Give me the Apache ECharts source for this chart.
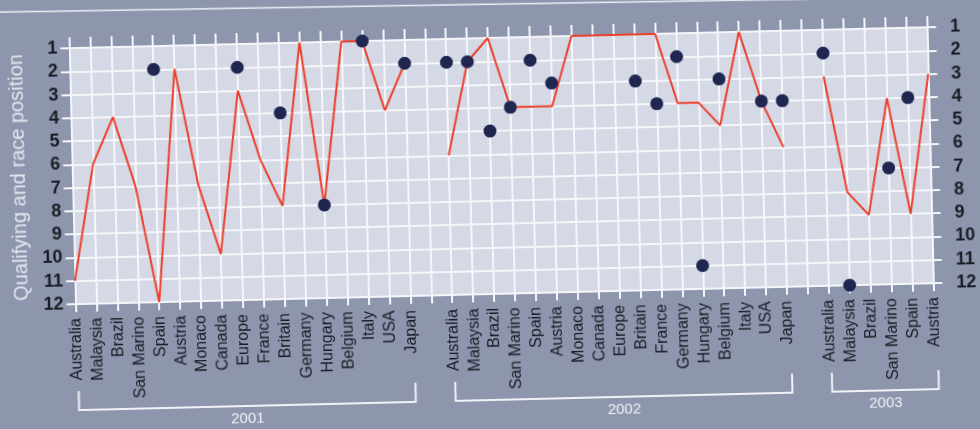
<!DOCTYPE html>
<html>
<head>
<meta charset="utf-8">
<title>Qualifying and race position</title>
<script src="https://cdn.jsdelivr.net/npm/echarts@6/dist/echarts.min.js"></script>
<style>
  html, body { margin: 0; padding: 0; width: 980px; height: 429px; overflow: hidden; background: #8e96ad; }
  /* the printed chart is scanned slightly askew, so the whole canvas is tilted */
  #chart { position: absolute; left: -20px; top: -20px; width: 1020px; height: 469px; transform: rotate(-1.4deg); }
</style>
</head>
<body>
<div id="chart"></div>
<script>
var races2001 = ['Australia', 'Malaysia', 'Brazil', 'San Marino', 'Spain', 'Austria', 'Monaco', 'Canada', 'Europe',
  'France', 'Britain', 'Germany', 'Hungary', 'Belgium', 'Italy', 'USA', 'Japan']
var races2002 = ['Australia', 'Malaysia', 'Brazil', 'San Marino', 'Spain', 'Austria', 'Monaco', 'Canada', 'Europe',
  'Britain', 'France', 'Germany', 'Hungary', 'Belgium', 'Italy', 'USA', 'Japan']
var races2003 = ['Australia', 'Malaysia', 'Brazil', 'San Marino', 'Spain', 'Austria']

// race position (red line)
var race2001 = [11, 6, 4, 7, 12, 2, 7, 10, 3, 6, 8, 1, 8, 1, 1, 4, 2]
var race2002 = [6, 2, 1, 4, 4, 4, 1, 1, 1, 1, 1, 4, 4, 5, 1, 4, 6]
var race2003 = [3, 8, 9, 4, 9, 3]

// qualifying position (dots), null = no dot
var qual2001 = [null, null, null, null, 2, null, null, null, 2, null, 4, null, 8, null, 1, null, 2]
var qual2002 = [2, 2, 5, 4, 2, 3, null, null, null, 3, 4, 2, 11, 3, null, 4, 4]
var qual2003 = [2, 12, null, 7, 4, null]

var seasons = ['2001', '2002', '2003']

var GRID = '#f5f6fa'
var INK = '#1b1c24'
var FONT = 'Liberation Sans, Arial, sans-serif'

var raceNames = [races2001, races2002, races2003]
var racePos = [race2001, race2002, race2003]
var qualPos = [qual2001, qual2002, qual2003]

var categories = []
var raceData = []
var qualData = []
var spans = []
seasons.forEach(function (year, i) {
  if (i > 0) {
    categories.push('')
    raceData.push(null)
    qualData.push(null)
  }
  var start = categories.length
  categories = categories.concat(raceNames[i])
  raceData = raceData.concat(racePos[i])
  qualData = qualData.concat(qualPos[i])
  spans.push({ year: year, from: start, to: categories.length - 1 })
})

function rankAxis (position, margin, withGrid) {
  return {
    type: 'value',
    position: position,
    inverse: true,
    min: 1,
    max: 12,
    interval: 1,
    axisLine: { show: false },
    axisTick: { show: true, length: 9, lineStyle: { color: GRID, width: 2 } },
    axisLabel: { margin: margin, color: INK, fontSize: 18, fontWeight: 'bold', fontFamily: FONT },
    splitLine: { show: withGrid, lineStyle: { color: GRID, width: 2 } }
  }
}

var leftAxis = rankAxis('left', 12, true)
leftAxis.name = 'Qualifying and race position'
leftAxis.nameLocation = 'middle'
leftAxis.nameRotate = 90
leftAxis.nameGap = 38
leftAxis.nameTextStyle = { color: '#e4e7ef', fontSize: 20, fontFamily: FONT }

var chart = echarts.init(document.getElementById('chart'))
chart.setOption({
  animation: false,
  backgroundColor: '#8e96ad',
  grid: {
    left: 93.5,
    right: 68.5,
    top: 58,
    bottom: 155,
    show: true,
    backgroundColor: '#d5d9e5',
    borderWidth: 0
  },
  xAxis: [{
    type: 'category',
    data: categories,
    boundaryGap: false,
    position: 'bottom',
    axisLine: { show: true, lineStyle: { color: GRID, width: 2 } },
    axisTick: { show: true, interval: 0, length: 8, lineStyle: { color: GRID, width: 2 } },
    axisLabel: { interval: 0, rotate: 90, margin: 14, color: INK, fontSize: 16, fontFamily: FONT },
    splitLine: { show: true, interval: 0, lineStyle: { color: GRID, width: 2 } }
  }, {
    type: 'category',
    data: categories,
    boundaryGap: false,
    position: 'top',
    axisLine: { show: false },
    axisTick: { show: true, interval: 0, length: 11, lineStyle: { color: GRID, width: 2 } },
    axisLabel: { show: false }
  }],
  yAxis: [leftAxis, rankAxis('right', 23, false)],
  series: [{
    name: 'Race',
    type: 'line',
    data: raceData,
    connectNulls: false,
    symbol: 'none',
    lineStyle: { color: '#ec3f2c', width: 2 },
    z: 3
  }, {
    name: 'Qualifying',
    type: 'scatter',
    data: qualData,
    symbolSize: 13,
    itemStyle: { color: '#1f2650', opacity: 1 },
    z: 4
  }]
})

// season brackets under the race names
var graphics = [{
  type: 'line',
  shape: { x1: 0, y1: 20, x2: 1020, y2: 28.6 },
  style: { stroke: '#eef0f6', lineWidth: 1.5 },
  silent: true
}]
spans.forEach(function (s) {
  var x1 = chart.convertToPixel({ xAxisIndex: 0 }, s.from) + 1
  var x2 = chart.convertToPixel({ xAxisIndex: 0 }, s.to) + 3
  graphics.push({
    type: 'polyline',
    shape: { points: [[x1, 401], [x1, 420], [x2, 420], [x2, 401]] },
    style: { stroke: '#f0f2f7', lineWidth: 2, fill: null },
    silent: true
  })
  graphics.push({
    type: 'text',
    x: (x1 + x2) / 2,
    y: 433,
    style: {
      text: s.year, fill: '#f0f2f7', fontSize: 15, fontFamily: FONT,
      align: 'center', verticalAlign: 'middle'
    },
    silent: true
  })
})
chart.setOption({ graphic: graphics })
</script>
</body>
</html>
